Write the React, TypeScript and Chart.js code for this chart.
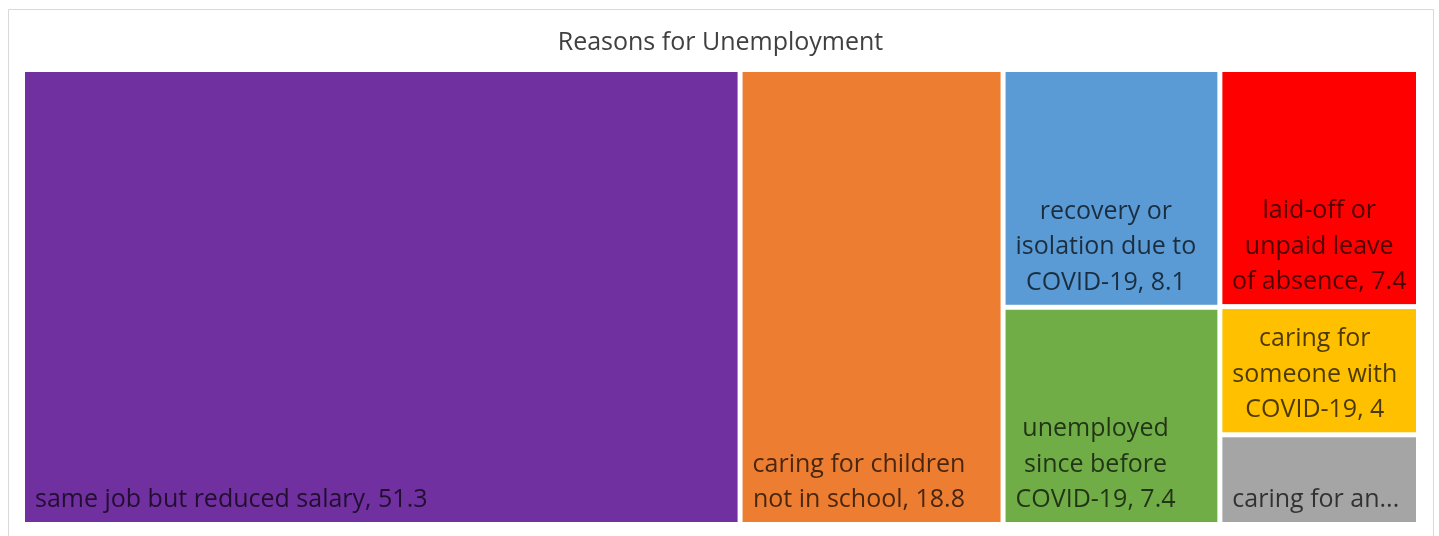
import React, { useEffect, useRef } from "react";
import { Chart, registerables } from "chart.js";

Chart.register(...registerables);

const chartTitle = "Reasons for Unemployment";
const categories = [
  "same job but reduced salary",
  "caring for children not in school",
  "recovery or isolation due to COVID-19",
  "unemployed since before COVID-19",
  "laid-off or unpaid leave of absence",
  "caring for someone with COVID-19",
  "caring for an elderly relative",
];
const values = [51.3, 18.8, 8.1, 7.4, 7.4, 4, 2.8];
const columnOf = [0, 1, 2, 2, 3, 3, 3];
const colors = ["#7030A0", "#ED7D31", "#5B9BD5", "#70AD47", "#FF0000", "#FFC000", "#A5A5A5"];

const FONT = '"Open Sans", "Noto Sans", sans-serif';
const LABEL_SIZE = 25;
const LINE_H = 35.5;
const GAP = 5;
const WRAP_INSET = 17;

type Cell = { i: number; x0: number; x1: number; y0: number; y1: number };

function layoutCells(): Cell[] {
  const cells: Cell[] = [];
  const cols = Array.from(new Set(columnOf)).sort((a, b) => a - b);
  let x = 0;
  for (const c of cols) {
    const idx = values.map((_, i) => i).filter((i) => columnOf[i] === c);
    const colSum = idx.reduce((s, i) => s + values[i], 0);
    let y = 0;
    for (const i of idx) {
      const h = (values[i] / colSum) * 100;
      cells.push({ i, x0: x, x1: x + colSum, y0: y, y1: y + h });
      y += h;
    }
    x += colSum;
  }
  return cells;
}

function wrap(ctx: CanvasRenderingContext2D, text: string, maxW: number): string[] {
  const words = text.split(" ");
  const lines: string[] = [];
  let cur = "";
  for (const w of words) {
    const t = cur ? cur + " " + w : w;
    if (ctx.measureText(t).width <= maxW || !cur) cur = t;
    else {
      lines.push(cur);
      cur = w;
    }
  }
  if (cur) lines.push(cur);
  return lines;
}

const treemapPlugin = {
  id: "treemapCells",
  beforeDraw(chart: any) {
    const { ctx, width } = chart;
    ctx.save();
    ctx.strokeStyle = "#d9d9d9";
    ctx.lineWidth = 1;
    ctx.beginPath();
    ctx.moveTo(0.5, chart.height + 2);
    ctx.lineTo(0.5, 0.5);
    ctx.lineTo(width - 0.5, 0.5);
    ctx.lineTo(width - 0.5, chart.height + 2);
    ctx.stroke();
    ctx.restore();
  },
  afterDatasetsDraw(chart: any) {
    const { ctx } = chart;
    const xs = chart.scales.x;
    const ys = chart.scales.y;
    const cells = layoutCells();
    ctx.save();
    for (const c of cells) {
      const left = xs.getPixelForValue(c.x0) + GAP / 2;
      const right = xs.getPixelForValue(c.x1) - GAP / 2;
      const top = ys.getPixelForValue(c.y0) + GAP / 2;
      const bottom = ys.getPixelForValue(c.y1) - GAP / 2;
      const w = right - left;
      const h = bottom - top;
      ctx.fillStyle = colors[c.i];
      ctx.fillRect(left, top, w, h);

      ctx.font = `${LABEL_SIZE}px ${FONT}`;
      const label = `${categories[c.i]}, ${values[c.i]}`;
      let lines = wrap(ctx, label, w - WRAP_INSET);
      const maxLines = Math.max(1, Math.floor((h - 14) / 36));
      if (lines.length > maxLines) {
        lines = lines.slice(0, maxLines);
        let last = lines[maxLines - 1];
        while (last.length > 1 && ctx.measureText(last + "...").width > w - 10) last = last.slice(0, -1);
        lines[maxLines - 1] = last + "...";
      }
      const blockW = Math.max(...lines.map((l) => ctx.measureText(l).width));
      const blockX = left + Math.min(10, (w - blockW) / 2);
      const cx = blockX + blockW / 2;
      const lastBase = bottom - 15;
      ctx.fillStyle = "rgba(0,0,0,0.7)";
      ctx.textAlign = "center";
      ctx.textBaseline = "alphabetic";
      lines.forEach((l, k) => {
        ctx.fillText(l, cx, lastBase - (lines.length - 1 - k) * LINE_H);
      });
    }
    ctx.restore();
  },
};

export default function App() {
  const ref = useRef<HTMLCanvasElement | null>(null);
  useEffect(() => {
    if (!ref.current) return;
    const total = values.reduce((s, v) => s + v, 0);
    const chart = new Chart(ref.current, {
      type: "scatter",
      data: { datasets: [{ label: "cells", data: [] }] },
      options: {
        animation: false,
        responsive: false,
        devicePixelRatio: 1,
        layout: { padding: { left: 14.5, right: 15.5, top: 0, bottom: 11.5 } },
        scales: {
          x: { type: "linear", min: 0, max: total, display: false },
          y: { type: "linear", min: 0, max: 100, reverse: true, display: false },
        },
        plugins: {
          legend: { display: false },
          tooltip: { enabled: false },
          title: {
            display: true,
            text: chartTitle,
            color: "#404040",
            font: { family: FONT, size: 25, weight: "normal" },
            padding: { top: 19, bottom: 11.5 },
          },
        },
      },
      plugins: [treemapPlugin],
    });
    return () => chart.destroy();
  }, []);
  return (
    <div style={{ position: "fixed", left: 8, top: 9, width: 1426, height: 527, background: "#fff" }}>
      <canvas ref={ref} width={1426} height={527} />
    </div>
  );
}
